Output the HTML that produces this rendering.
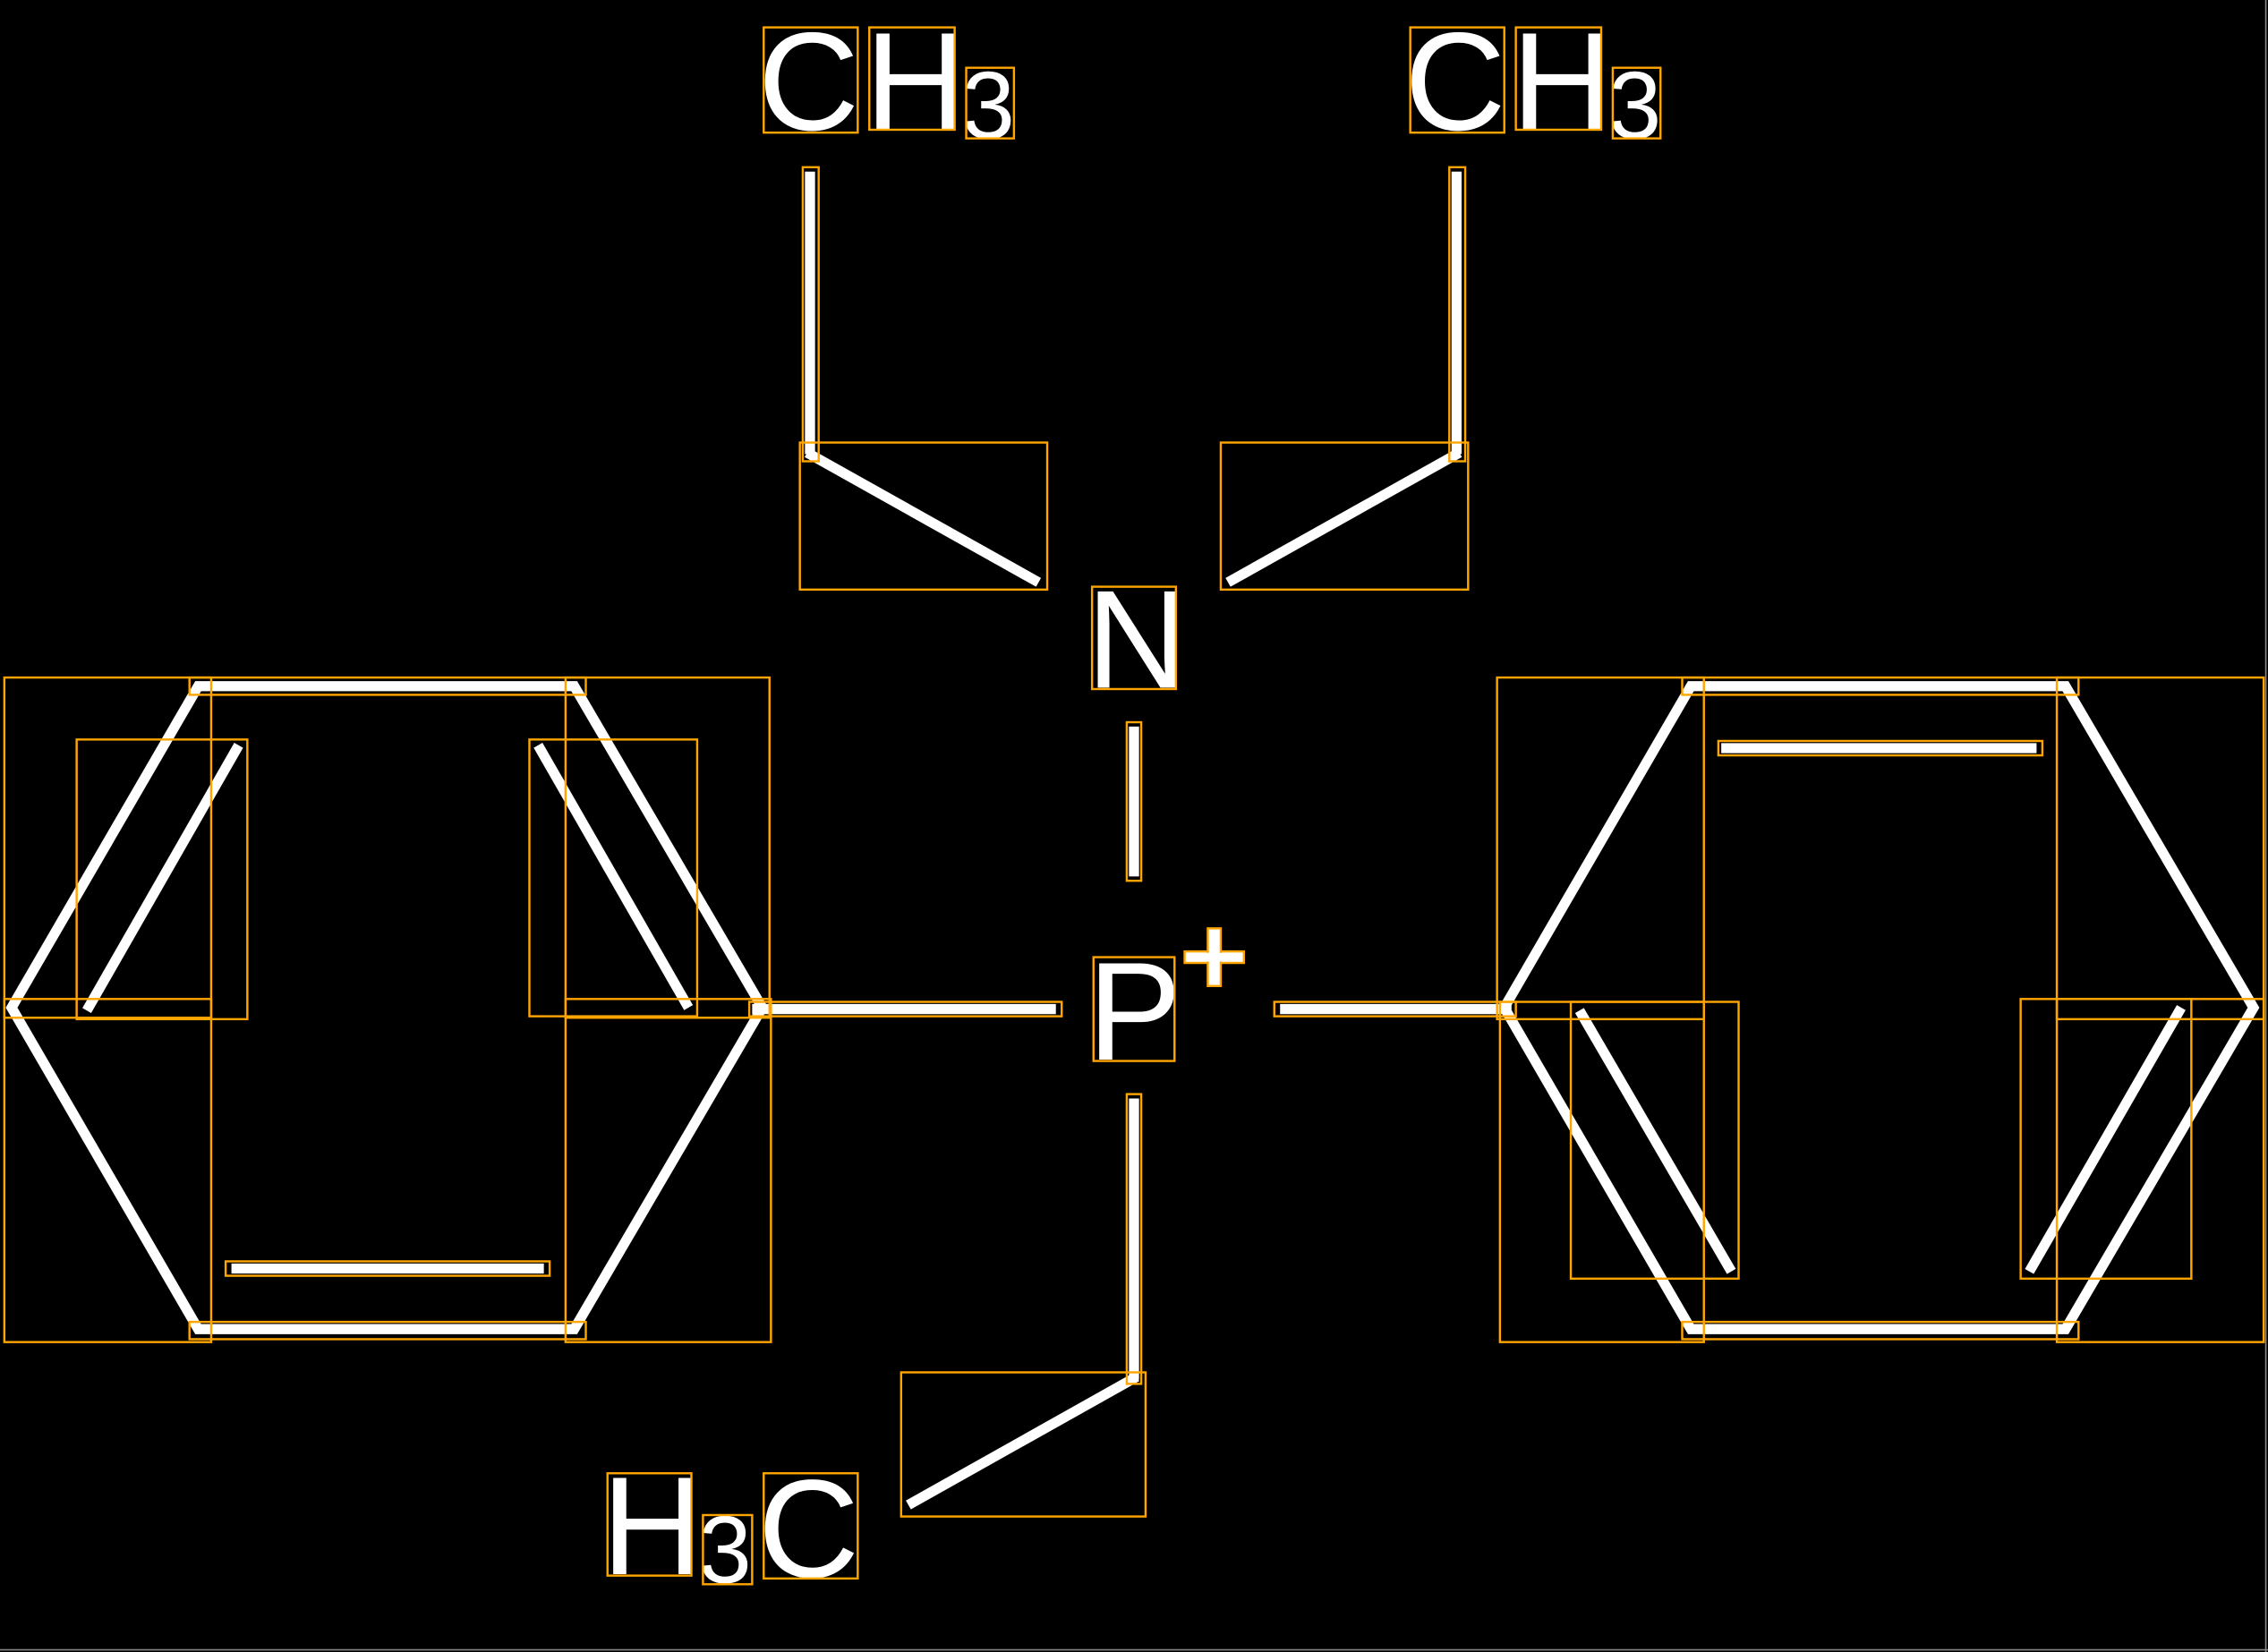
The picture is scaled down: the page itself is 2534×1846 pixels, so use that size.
<!DOCTYPE html>
<html><head><meta charset="utf-8"><style>
html,body{margin:0;padding:0;background:#000;overflow:hidden}
svg{display:block}
text{font-family:"Liberation Sans",sans-serif;fill:#fff}
</style></head><body>
<svg width="2534" height="1846" viewBox="0 0 1568 1146" preserveAspectRatio="none" xmlns="http://www.w3.org/2000/svg">
<rect width="1568" height="1146" fill="#000"/>
<line x1="1566.5" y1="0" x2="1566.5" y2="1146" stroke="#888" stroke-width="1"/>
<line x1="0" y1="1144.5" x2="1568" y2="1144.5" stroke="#888" stroke-width="1"/>
<g transform="translate(0,2)">
<g stroke="#fff" stroke-width="7" fill="none">
<line x1="560" y1="117" x2="560" y2="313"/>
<line x1="558" y1="312" x2="718" y2="402"/>
<line x1="1007" y1="117" x2="1007" y2="313"/>
<line x1="1009" y1="312" x2="849" y2="402"/>
<line x1="784" y1="502" x2="784" y2="606"/>
<line x1="520" y1="698" x2="730" y2="698"/>
<line x1="885" y1="698" x2="1045" y2="698"/>
<line x1="784" y1="760" x2="784" y2="955"/>
<line x1="786" y1="953" x2="628" y2="1042"/>
<polygon points="137,474 397,474 527,697 397,920 137,920 8,697"/>
<line x1="60" y1="699" x2="165" y2="515"/>
<line x1="372" y1="515" x2="476" y2="697"/>
<line x1="160" y1="878" x2="376" y2="878"/>
<polygon points="1169,474 1428,474 1558,697 1428,920 1169,920 1040,697"/>
<line x1="1190" y1="517" x2="1408" y2="517"/>
<line x1="1092" y1="699" x2="1197" y2="880"/>
<line x1="1403" y1="880" x2="1508" y2="697"/>
</g>
<g font-size="97">
<text x="524" y="88">C</text><text x="598" y="88">H</text>
<text x="971" y="88">C</text><text x="1045" y="88">H</text>
<text x="751" y="475">N</text>
<text x="752" y="733">P</text>
<text x="416" y="1090">H</text><text x="524" y="1092">C</text>
</g>
<g font-size="66">
<text x="665" y="94">3</text><text x="1112" y="94">3</text><text x="483" y="1096">3</text>
</g>
<g fill="#fff" stroke="#FFA500" stroke-width="1.5">
<rect x="819" y="658" width="41" height="8"/><rect x="835" y="642" width="9" height="40"/>
<rect x="820" y="659" width="39" height="6" stroke="none"/>
</g>
<g stroke="#FFA500" stroke-width="1.5" fill="none">
<rect x="528" y="17" width="65" height="73"/><rect x="601" y="17" width="59" height="71"/><rect x="668" y="45" width="33" height="49"/>
<rect x="975" y="17" width="65" height="73"/><rect x="1048" y="17" width="59" height="71"/><rect x="1115" y="45" width="33" height="49"/>
<rect x="555" y="114" width="11" height="204"/><rect x="553" y="305" width="171" height="102"/>
<rect x="1002" y="114" width="11" height="204"/><rect x="844" y="305" width="171" height="102"/>
<rect x="755" y="405" width="58" height="71"/><rect x="779" y="499" width="10" height="110"/>
<rect x="756" y="662" width="56" height="72"/>
<rect x="518" y="693" width="216" height="10"/><rect x="881" y="693" width="167" height="10"/>
<rect x="779" y="757" width="10" height="201"/><rect x="623" y="950" width="169" height="100"/>
<rect x="420" y="1020" width="58" height="71"/><rect x="486" y="1049" width="34" height="48"/><rect x="528" y="1020" width="65" height="73"/>
<rect x="3" y="468" width="143" height="236"/><rect x="131" y="468" width="274" height="12"/><rect x="391" y="468" width="141" height="236"/>
<rect x="53" y="511" width="118" height="194"/><rect x="366" y="511" width="116" height="192"/>
<rect x="3" y="691" width="143" height="238"/><rect x="391" y="691" width="142" height="238"/>
<rect x="156" y="873" width="224" height="10"/><rect x="131" y="915" width="274" height="12"/>
<rect x="1035" y="468" width="143" height="237"/><rect x="1163" y="468" width="274" height="12"/><rect x="1422" y="468" width="143" height="237"/>
<rect x="1188" y="512" width="224" height="10"/><rect x="1037" y="693" width="141" height="236"/><rect x="1086" y="693" width="116" height="192"/>
<rect x="1397" y="691" width="118" height="194"/><rect x="1422" y="691" width="143" height="238"/><rect x="1163" y="915" width="274" height="12"/>
</g>
</g>
</svg>
</body></html>
